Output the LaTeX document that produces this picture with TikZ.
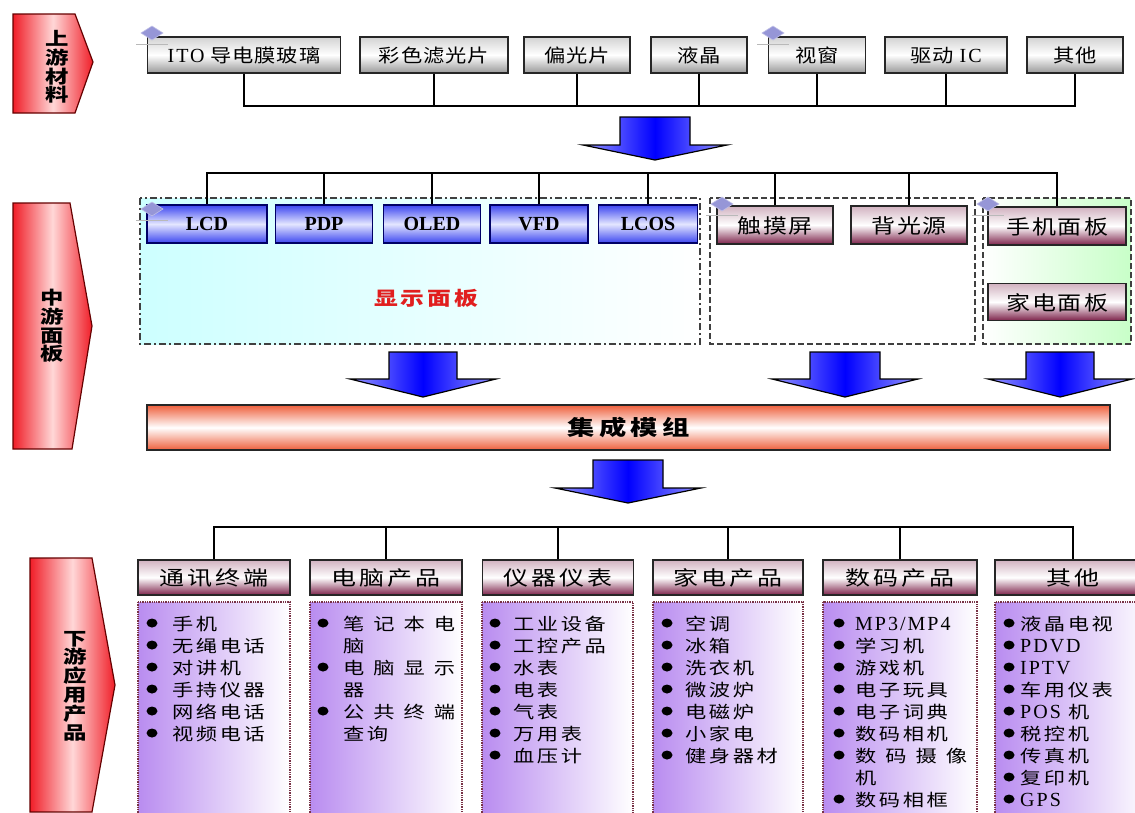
\documentclass[tikz,border=0pt]{standalone}
\usepackage{fontspec}
\setmainfont{Liberation Serif}
\newfontfamily\cjk{Noto Sans CJK SC}
\newfontfamily\cjkA[FakeStretch=1.15,LetterSpace=5]{Noto Sans CJK SC}
\newfontfamily\cjkB[FakeStretch=1.2,LetterSpace=10]{Noto Sans CJK SC}
\newfontfamily\cjkC[FakeStretch=1.25,LetterSpace=15]{Noto Sans CJK SC}
\newfontfamily\cjkD[FakeStretch=1.3,LetterSpace=20]{Noto Sans CJK SC}
\newfontfamily\cjkS[FakeStretch=1.25]{Noto Sans CJK SC}
\newfontfamily\serA[LetterSpace=10]{Liberation Serif}
\definecolor{mar}{RGB}{125,35,75}
\definecolor{bblue}{RGB}{60,70,240}
\definecolor{bmid}{RGB}{228,230,255}
\definecolor{abl}{RGB}{150,150,255}
\definecolor{dia}{RGB}{150,150,215}
\definecolor{lred}{RGB}{240,30,40}
\definecolor{lpink}{RGB}{255,215,215}
\definecolor{orng}{RGB}{238,95,60}
\definecolor{cyl}{RGB}{205,255,255}
\definecolor{grl}{RGB}{200,255,200}
\definecolor{pur}{RGB}{185,140,240}
\definecolor{dotc}{RGB}{120,50,70}
\definecolor{redt}{RGB}{225,30,30}
\newcommand\lat[1]{{\serA\fontsize{20}{20}\selectfont #1}}
\newcommand\sprd[4]{\makebox[112pt][s]{\cjkS #1\hfill #2\hfill #3\hfill #4}}
\newcommand\blkarrow[6]{%
  \draw[line width=1.2pt, left color=abl, right color=abl, middle color=blue]
  (#1-#5,#2) -- (#1+#5,#2) -- (#1+#5,#3) -- (#1+#6,#3) -- (#1,#4) -- (#1-#6,#3) -- (#1-#5,#3) -- cycle;}
\newcommand\anch[2]{%
  \draw[gray!55, line width=0.8pt] (#1-16,#2+11) -- (#1+16,#2+11);
  \draw[fill=dia, draw=dia!60!white, line width=0.6pt] (#1-11,#2) -- (#1,#2-7) -- (#1+11,#2) -- (#1,#2+7) -- cycle;}
\newcommand\itemcol[4]{%
  \foreach \b/\t [count=\i from 0] in {#4} {
    \node[itm] (#1-\i) at (#3,623+22*\i) {\t};
    \ifnum\b=1 \fill (#2,623+22*\i) ellipse [x radius=5.5pt, y radius=4.5pt];\fi
  }}
\begin{document}
\begin{tikzpicture}[x=1pt,y=-1pt,
  conn/.style={line width=2pt, draw=black},
  topbox/.style={draw=black!85, line width=1.8pt, top color=gray!35, bottom color=gray!80, middle color=white,
    inner sep=0pt, font=\cjkA\fontsize{18.5}{18.5}\selectfont, text height=15pt, text depth=0pt},
  bluebox/.style={draw=blue!40!black, line width=1.5pt, top color=bblue, bottom color=bblue, middle color=bmid,
    inner sep=0pt, font=\bfseries\fontsize{20}{20}\selectfont, text height=13.5pt, text depth=0pt},
  marbox/.style={draw=black!85, line width=1.8pt, top color=mar!35, bottom color=mar, middle color=white,
    inner sep=0pt, font=\cjkB\fontsize{20}{20}\selectfont, text height=16pt, text depth=0pt},
  catbox/.style={marbox, font=\cjkC\fontsize{20}{20}\selectfont},
  listbox/.style={draw=dotc, line width=1.3pt, densely dotted, left color=pur, right color=white},
  itm/.style={anchor=west, inner sep=0pt, font=\cjkC\fontsize{17}{17}\selectfont, text height=14pt, text depth=0pt},
  lbl/.style={align=center, inner sep=0pt, font=\cjkD\bfseries\fontsize{18}{18.8}\selectfont},
  lshape/.style={draw=red!40!black, line width=1.2pt, left color=lred, right color=lred, middle color=lpink},
]
\fill[white] (0,0) rectangle (1135,812);
\useasboundingbox (0,0) rectangle (1135,812);

% ---- left stage labels
\draw[lshape] (13,14) -- (75,14) -- (93,62) -- (75,113) -- (13,113) -- cycle;
\node[lbl] (l1) at (57,67) {上\\游\\材\\料};
\draw[lshape] (13,203) -- (70,203) -- (92,326) -- (72,449) -- (13,449) -- cycle;
\node[lbl] (l2) at (52,326) {中\\游\\面\\板};
\draw[lshape] (30,558) -- (92,558) -- (115,685) -- (92,812) -- (30,812) -- cycle;
\node[lbl] (l3) at (75,686) {下\\游\\应\\用\\产\\品};

% ---- upstream materials
\node[topbox, minimum width=193pt, minimum height=36pt] (t1) at (244,55) {\lat{ITO} 导电膜玻璃};
\node[topbox, minimum width=148pt, minimum height=36pt] (t2) at (434,55) {彩色滤光片};
\node[topbox, minimum width=106pt, minimum height=36pt] (t3) at (577,55) {偏光片};
\node[topbox, minimum width=96pt, minimum height=36pt] (t4) at (699,55) {液晶};
\node[topbox, minimum width=97pt, minimum height=36pt] (t5) at (817,55) {视窗};
\node[topbox, minimum width=122pt, minimum height=36pt] (t6) at (946,55) {驱动 \lat{IC}};
\node[topbox, minimum width=96pt, minimum height=36pt] (t7) at (1075,55) {其他};
\coordinate (tb) at (0,106);
\draw[conn] (t1.south) -- (t1.south |- tb) -- (t7.south |- tb) -- (t7.south);
\foreach \n in {t2,t3,t4,t5,t6} \draw[conn] (\n.south) -- (\n.south |- tb);
\anch{152}{33}
\anch{773}{33}

\blkarrow{655}{117}{145}{160}{35}{72}

% ---- midstream containers
\draw[line width=1.5pt, draw=black!75, dash pattern=on 7pt off 3pt on 2pt off 3pt, left color=cyl, right color=white]
  (140,198) rectangle (700,344);
\draw[line width=1.5pt, draw=black!75, dash pattern=on 6pt off 3pt] (710,198) rectangle (975,344);
\draw[line width=1.5pt, draw=black!75, dash pattern=on 6pt off 3pt, left color=white, right color=grl]
  (983,198) rectangle (1131,344);
\node[font=\cjkC\bfseries\fontsize{19}{19}\selectfont, text=redt, inner sep=0pt] (disp) at (426,298) {显示面板};

\coordinate (mb) at (0,173);
\node[bluebox, minimum width=120pt, minimum height=38pt] (m1) at (207,224) {LCD};
\node[bluebox, minimum width=97pt, minimum height=38pt] (m2) at (324,224) {PDP};
\node[bluebox, minimum width=97pt, minimum height=38pt] (m3) at (432,224) {OLED};
\node[bluebox, minimum width=98pt, minimum height=38pt] (m4) at (539,224) {VFD};
\node[bluebox, minimum width=99pt, minimum height=38pt] (m5) at (648,224) {LCOS};
\node[marbox, minimum width=116pt, minimum height=38pt] (m6) at (775,225) {触摸屏};
\node[marbox, minimum width=116pt, minimum height=38pt] (m7) at (909,225) {背光源};
\node[marbox, minimum width=138pt, minimum height=38pt] (m8) at (1057,226) {手机面板};
\node[marbox, minimum width=138pt, minimum height=37pt] (m9) at (1057,302) {家电面板};
\draw[conn] (m1.north) -- (m1.north |- mb) -- (m8.north |- mb) -- (m8.north);
\foreach \n in {m2,m3,m4,m5,m6,m7} \draw[conn] (\n.north) -- (\n.north |- mb);
\anch{152}{209}
\anch{722}{204}
\anch{988}{204}

\blkarrow{423}{352}{379}{397}{34}{73}
\blkarrow{845}{352}{379}{397}{35}{73}
\blkarrow{1060}{352}{379}{397}{34}{72}

% ---- integrated module
\node[draw=black!85, line width=1.3pt, top color=orng, bottom color=orng, middle color=white,
  minimum width=963pt, minimum height=45pt, inner sep=0pt,
  font=\cjkD\bfseries\fontsize{21}{21}\selectfont] (mod) at (628.5,427.5) {集成模组};

\blkarrow{628}{460}{488}{503}{35}{73}

% ---- downstream
\coordinate (bb) at (0,527);
\draw[listbox] (138,602) rectangle (290,830);
\draw[listbox] (310,602) rectangle (462,830);
\draw[listbox] (482,602) rectangle (633,830);
\draw[listbox] (653,602) rectangle (803,830);
\draw[listbox] (823,602) rectangle (977,830);
\draw[listbox] (995,602) rectangle (1151,830);
\node[catbox, minimum width=152pt, minimum height=35pt] (c1) at (214,577.5) {通讯终端};
\node[catbox, minimum width=152pt, minimum height=35pt] (c2) at (386,577.5) {电脑产品};
\node[catbox, minimum width=151pt, minimum height=35pt] (c3) at (558,577.5) {仪器仪表};
\node[catbox, minimum width=150pt, minimum height=35pt] (c4) at (728,577.5) {家电产品};
\node[catbox, minimum width=154pt, minimum height=35pt] (c5) at (900,577.5) {数码产品};
\node[catbox, minimum width=156pt, minimum height=35pt] (c6) at (1073,577.5) {其他};
\draw[conn] (c1.north) -- (c1.north |- bb) -- (c6.north |- bb) -- (c6.north);
\foreach \n in {c2,c3,c4,c5} \draw[conn] (\n.north) -- (\n.north |- bb);

\itemcol{ia}{152}{172}{1/手机,1/无绳电话,1/对讲机,1/手持仪器,1/网络电话,1/视频电话}
\itemcol{ib}{323}{343}{1/\sprd{笔}{记}{本}{电},0/脑,1/\sprd{电}{脑}{显}{示},0/器,1/\sprd{公}{共}{终}{端},0/查询}
\itemcol{ic}{495}{513}{1/工业设备,1/工控产品,1/水表,1/电表,1/气表,1/万用表,1/血压计}
\itemcol{id}{667}{685}{1/空调,1/冰箱,1/洗衣机,1/微波炉,1/电磁炉,1/小家电,1/健身器材}
\itemcol{ie}{839}{855}{1/\lat{MP3/MP4},1/学习机,1/游戏机,1/电子玩具,1/电子词典,1/数码相机,1/\sprd{数}{码}{摄}{像},0/机,1/数码相框}
\itemcol{if}{1009}{1020}{1/液晶电视,1/\lat{PDVD},1/\lat{IPTV},1/车用仪表,1/\lat{POS} 机,1/税控机,1/传真机,1/复印机,1/\lat{GPS}}
\end{tikzpicture}
\end{document}
